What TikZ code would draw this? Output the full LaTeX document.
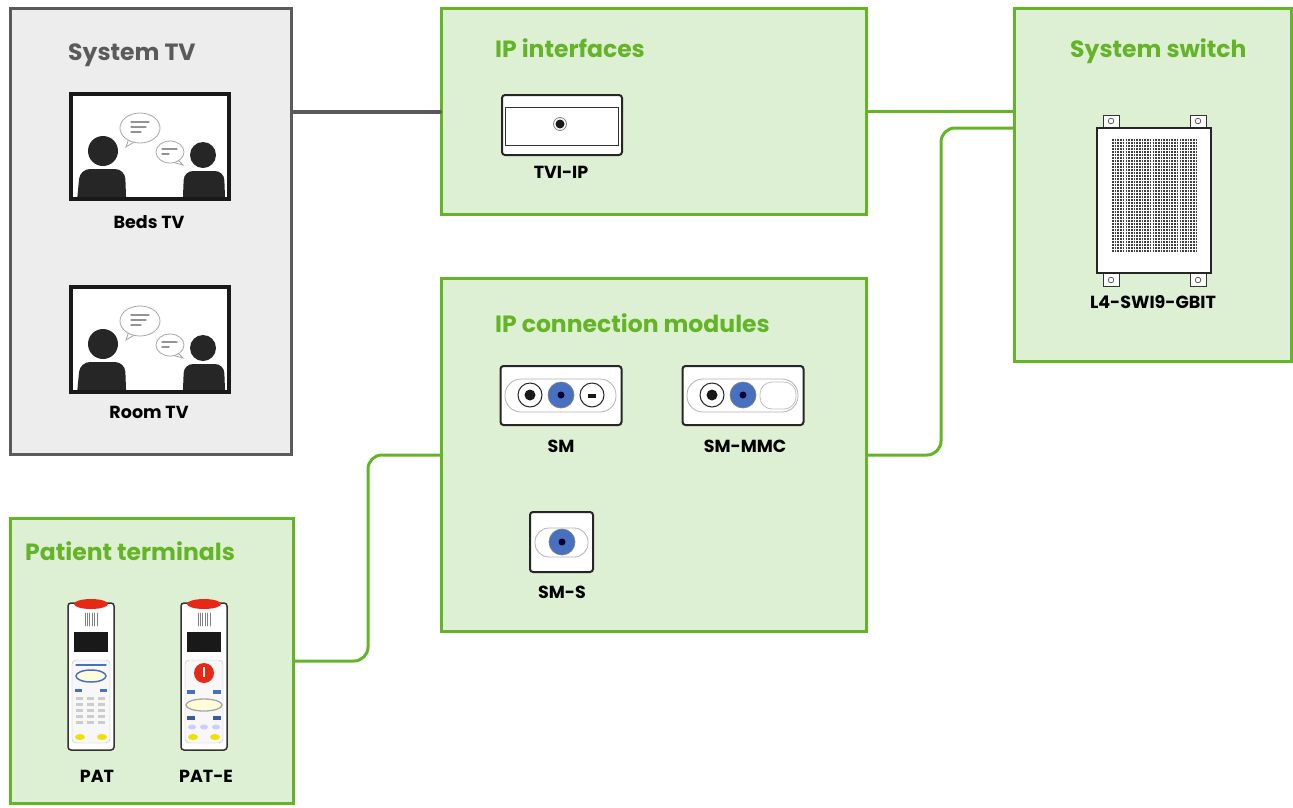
\documentclass[tikz,border=0pt]{standalone}
\usepackage{fontspec}
\setmainfont{Poppins}
\usetikzlibrary{positioning}

\definecolor{netgreen}{RGB}{100,180,40}
\definecolor{panelgreen}{RGB}{222,240,212}
\definecolor{tvgray}{RGB}{90,90,90}
\definecolor{panelgray}{RGB}{237,237,237}
\definecolor{jackblue}{RGB}{72,112,192}
\definecolor{capred}{RGB}{230,40,20}

\tikzset{panel/.style={draw=netgreen,line width=3pt,fill=panelgreen,anchor=north west,inner sep=0pt},
         tvpanel/.style={panel,draw=tvgray,fill=panelgray},
         paneltitle/.style={font=\bfseries\fontsize{23.5}{26}\selectfont,text=netgreen,anchor=base west,inner sep=0pt},
         devlabel/.style={font=\bfseries\fontsize{17.5}{20}\selectfont,anchor=base,inner sep=0pt},
         devbox/.style={draw=black!85,line width=2pt,fill=white,rounded corners=3pt,inner sep=0pt},
         netlink/.style={netgreen,line width=3pt,rounded corners=14pt},
         tvlink/.style={tvgray,line width=4pt}}

\begin{document}
\begin{tikzpicture}[x=1pt,y=-1pt,line cap=round]
  \useasboundingbox (0,0) rectangle (1293,807);

  % panels
  \node[tvpanel,minimum width=281,minimum height=446] (tvsys) at (9,7) {};
  \node[panel,minimum width=425,minimum height=206] (ipif) at (440,7) {};
  \node[panel,minimum width=277,minimum height=353] (swbox) at (1013,7) {};
  \node[panel,minimum width=425,minimum height=353] (ipcm) at (440,277) {};
  \node[panel,minimum width=283,minimum height=285] (patbox) at (9,517) {};

  \node[paneltitle,text=tvgray] (tvtitle) at (68,60) {System TV};
  \node[paneltitle] (iftitle) at (495,57) {IP interfaces};
  \node[paneltitle] (swtitle) at (1070,57) {System switch};
  \node[paneltitle] (cmtitle) at (495,332) {IP connection modules};
  \node[paneltitle] (pattitle) at (25,560) {Patient terminals};

  % links between the panels
  \draw[tvlink] (tvsys.east |- ipif.west) -- (ipif.west);
  \draw[netlink] (ipif.east) -- (swbox.west |- ipif.east);
  \draw[netlink] (ipcm.east) -- ++(73,0) |- ([yshift=57pt]swbox.west);
  \draw[netlink] (patbox.east) -- ++(73,0) |- (ipcm.west);

  % the two TV sets
  \foreach \y/\nm/\txt in {92/beds/Beds TV,285/room/Room TV} {
    \begin{scope}[shift={(69,\y)}]
      \fill[white] (2,2) rectangle (160,107);
      \begin{scope}
        \clip (4,4) rectangle (158,105);
        \fill[black!85] (34,59) circle (15);
        \fill[black!85,rounded corners=10pt] (6,130) -- (11,77) -- (56,77) -- (58,130) -- cycle;
        \fill[black!85] (134,63) circle (13);
        \fill[black!85,rounded corners=9pt] (113,130) -- (115,79) -- (155,79) -- (157,130) -- cycle;
        \draw[gray!70,line width=.8pt,fill=white] (60,46) -- (57,55) -- (67,49);
        \draw[gray!70,line width=.8pt,fill=white] (71,36) ellipse (20 and 15);
        \draw[gray!85,line width=1.3pt] (62,30) -- (80,30) (62,35) -- (77,35) (62,40) -- (72,40);
        \draw[gray!70,line width=.8pt,fill=white] (108,67) -- (114,73) -- (103,70);
        \draw[gray!70,line width=.8pt,fill=white] (101,60) ellipse (14 and 11);
        \draw[gray!85,line width=1.3pt] (93,57) -- (108,57) (93,62) -- (100,62);
      \end{scope}
      \draw[black!90,line width=4pt] (2,2) rectangle (160,107);
    \end{scope}
  }
  \node[devlabel] (bedslbl) at (149,228) {Beds TV};
  \node[devlabel] (roomlbl) at (149,418) {Room TV};

  % TVI-IP interface
  \node[devbox,minimum width=120,minimum height=60] (tviip) at (562,125) {};
  \draw[black!80,line width=1pt] (505,107) rectangle (618,145);
  \draw[gray,line width=.8pt] (560,124) circle (6.5);
  \fill[black!90] (560,124) circle (4.5);
  \node[devlabel] (tviiplbl) at (561,178) {TVI-IP};

  % system switch
  \foreach \x in {1103,1190} {
    \draw[black!80,fill=white,line width=1pt] (\x,115) rectangle ++(16,13);
    \draw[black!70,line width=.7pt] (\x+8,121) circle (2.8);
    \draw[black!80,fill=white,line width=1pt] (\x,273) rectangle ++(16,13);
    \draw[black!70,line width=.7pt] (\x+8,280) circle (2.8);
  }
  \node[devbox,rounded corners=0pt,minimum width=114,minimum height=145] (l4sw) at (1154,200.5) {};
  \foreach \r in {0,...,37}
    \draw[black!75,line width=1.2pt,line cap=butt,dash pattern=on 1.6pt off 1.1pt]
      (1112,140+\r*3) -- (1197,140+\r*3);
  \node[devlabel] (l4swlbl) at (1153,308) {L4-SWI9-GBIT};

  % connection modules
  \node[devbox,minimum width=121,minimum height=59] (sm) at (561,395.5) {};
  \node[devbox,minimum width=121,minimum height=59] (smmmc) at (743,395.5) {};
  \node[devbox,minimum width=63,minimum height=60] (sms) at (561.5,542) {};
  \draw[gray!60,line width=.8pt,rounded corners=16pt] (505,379) rectangle (616,412);
  \draw[gray!60,line width=.8pt,rounded corners=16pt] (687,379) rectangle (798,412);
  \draw[gray!60,line width=.8pt,rounded corners=14pt] (535,528) rectangle (588,557);
  \foreach \x in {530,712} {
    \draw[black!85,line width=1pt,fill=white] (\x,395) circle (12);
    \fill[black!90] (\x,395) circle (5.5);
  }
  \foreach \x/\y in {561/395,743/395,562/542} {
    \fill[jackblue] (\x,\y) circle (13);
    \draw[black!50,line width=.7pt] (\x,\y) circle (13);
    \fill[black!80!blue] (\x,\y) circle (3.5);
  }
  \draw[black!85,line width=1pt,fill=white] (592,395) circle (12);
  \fill[black!90] (588,394) rectangle (596,398);
  \draw[gray!50,line width=.8pt,fill=white,rounded corners=12pt] (760,382) rectangle (796,409);
  \node[devlabel] (smlbl) at (561,452) {SM};
  \node[devlabel] (smmmclbl) at (745,452) {SM-MMC};
  \node[devlabel] (smslbl) at (562,598) {SM-S};

  % patient terminals
  \foreach \x in {68,181} {
    \draw[black!80,line width=1.5pt,fill=white,rounded corners=3pt] (\x,603) rectangle (\x+46,750);
    \fill[capred] (\x+23,604) ellipse (17 and 5);
    \foreach \k in {0,...,5}
      \draw[gray,line width=.8pt] (\x+17+\k*2.4,613) -- (\x+17+\k*2.4,626);
    \fill[black!90] (\x+6,632) rectangle (\x+40,652);
    \draw[gray!50,fill=gray!6,rounded corners=4pt] (\x+4,660) rectangle (\x+42,743);
    \fill[yellow!85!olive] (\x+12,737) ellipse (5 and 3);
    \fill[yellow!85!olive] (\x+34,737) ellipse (5 and 3);
  }
  % PAT keypad
  \draw[jackblue,line width=1.2pt] (76,665) -- (106,665);
  \draw[jackblue,line width=1.5pt,fill=yellow!15] (91,676) ellipse (15 and 6);
  \fill[jackblue] (75,689) rectangle (82,692);
  \fill[jackblue] (100,689) rectangle (107,692);
  \foreach \r in {0,...,4}
    \foreach \c in {0,1,2}
      \fill[gray!40] (76+\c*11,697+\r*6) rectangle ++(7,3);
  % PAT-E keypad
  \fill[capred] (204,673) circle (10);
  \fill[white] (203,667) rectangle (205,677);
  \fill[jackblue] (187,690) rectangle ++(8,4);
  \fill[jackblue] (213,690) rectangle ++(8,4);
  \draw[gray!70,line width=1.3pt,fill=yellow!15] (204,705) ellipse (18 and 6);
  \fill[jackblue!80!black] (187,716) rectangle ++(8,4);
  \fill[jackblue!80!black] (213,716) rectangle ++(8,4);
  \foreach \c in {0,1,2}
    \fill[blue!20] (192+\c*12,727) ellipse (4 and 2.5);
  \node[devlabel] (patlbl) at (97,782) {PAT};
  \node[devlabel] (patelbl) at (206,782) {PAT-E};
\end{tikzpicture}
\end{document}
